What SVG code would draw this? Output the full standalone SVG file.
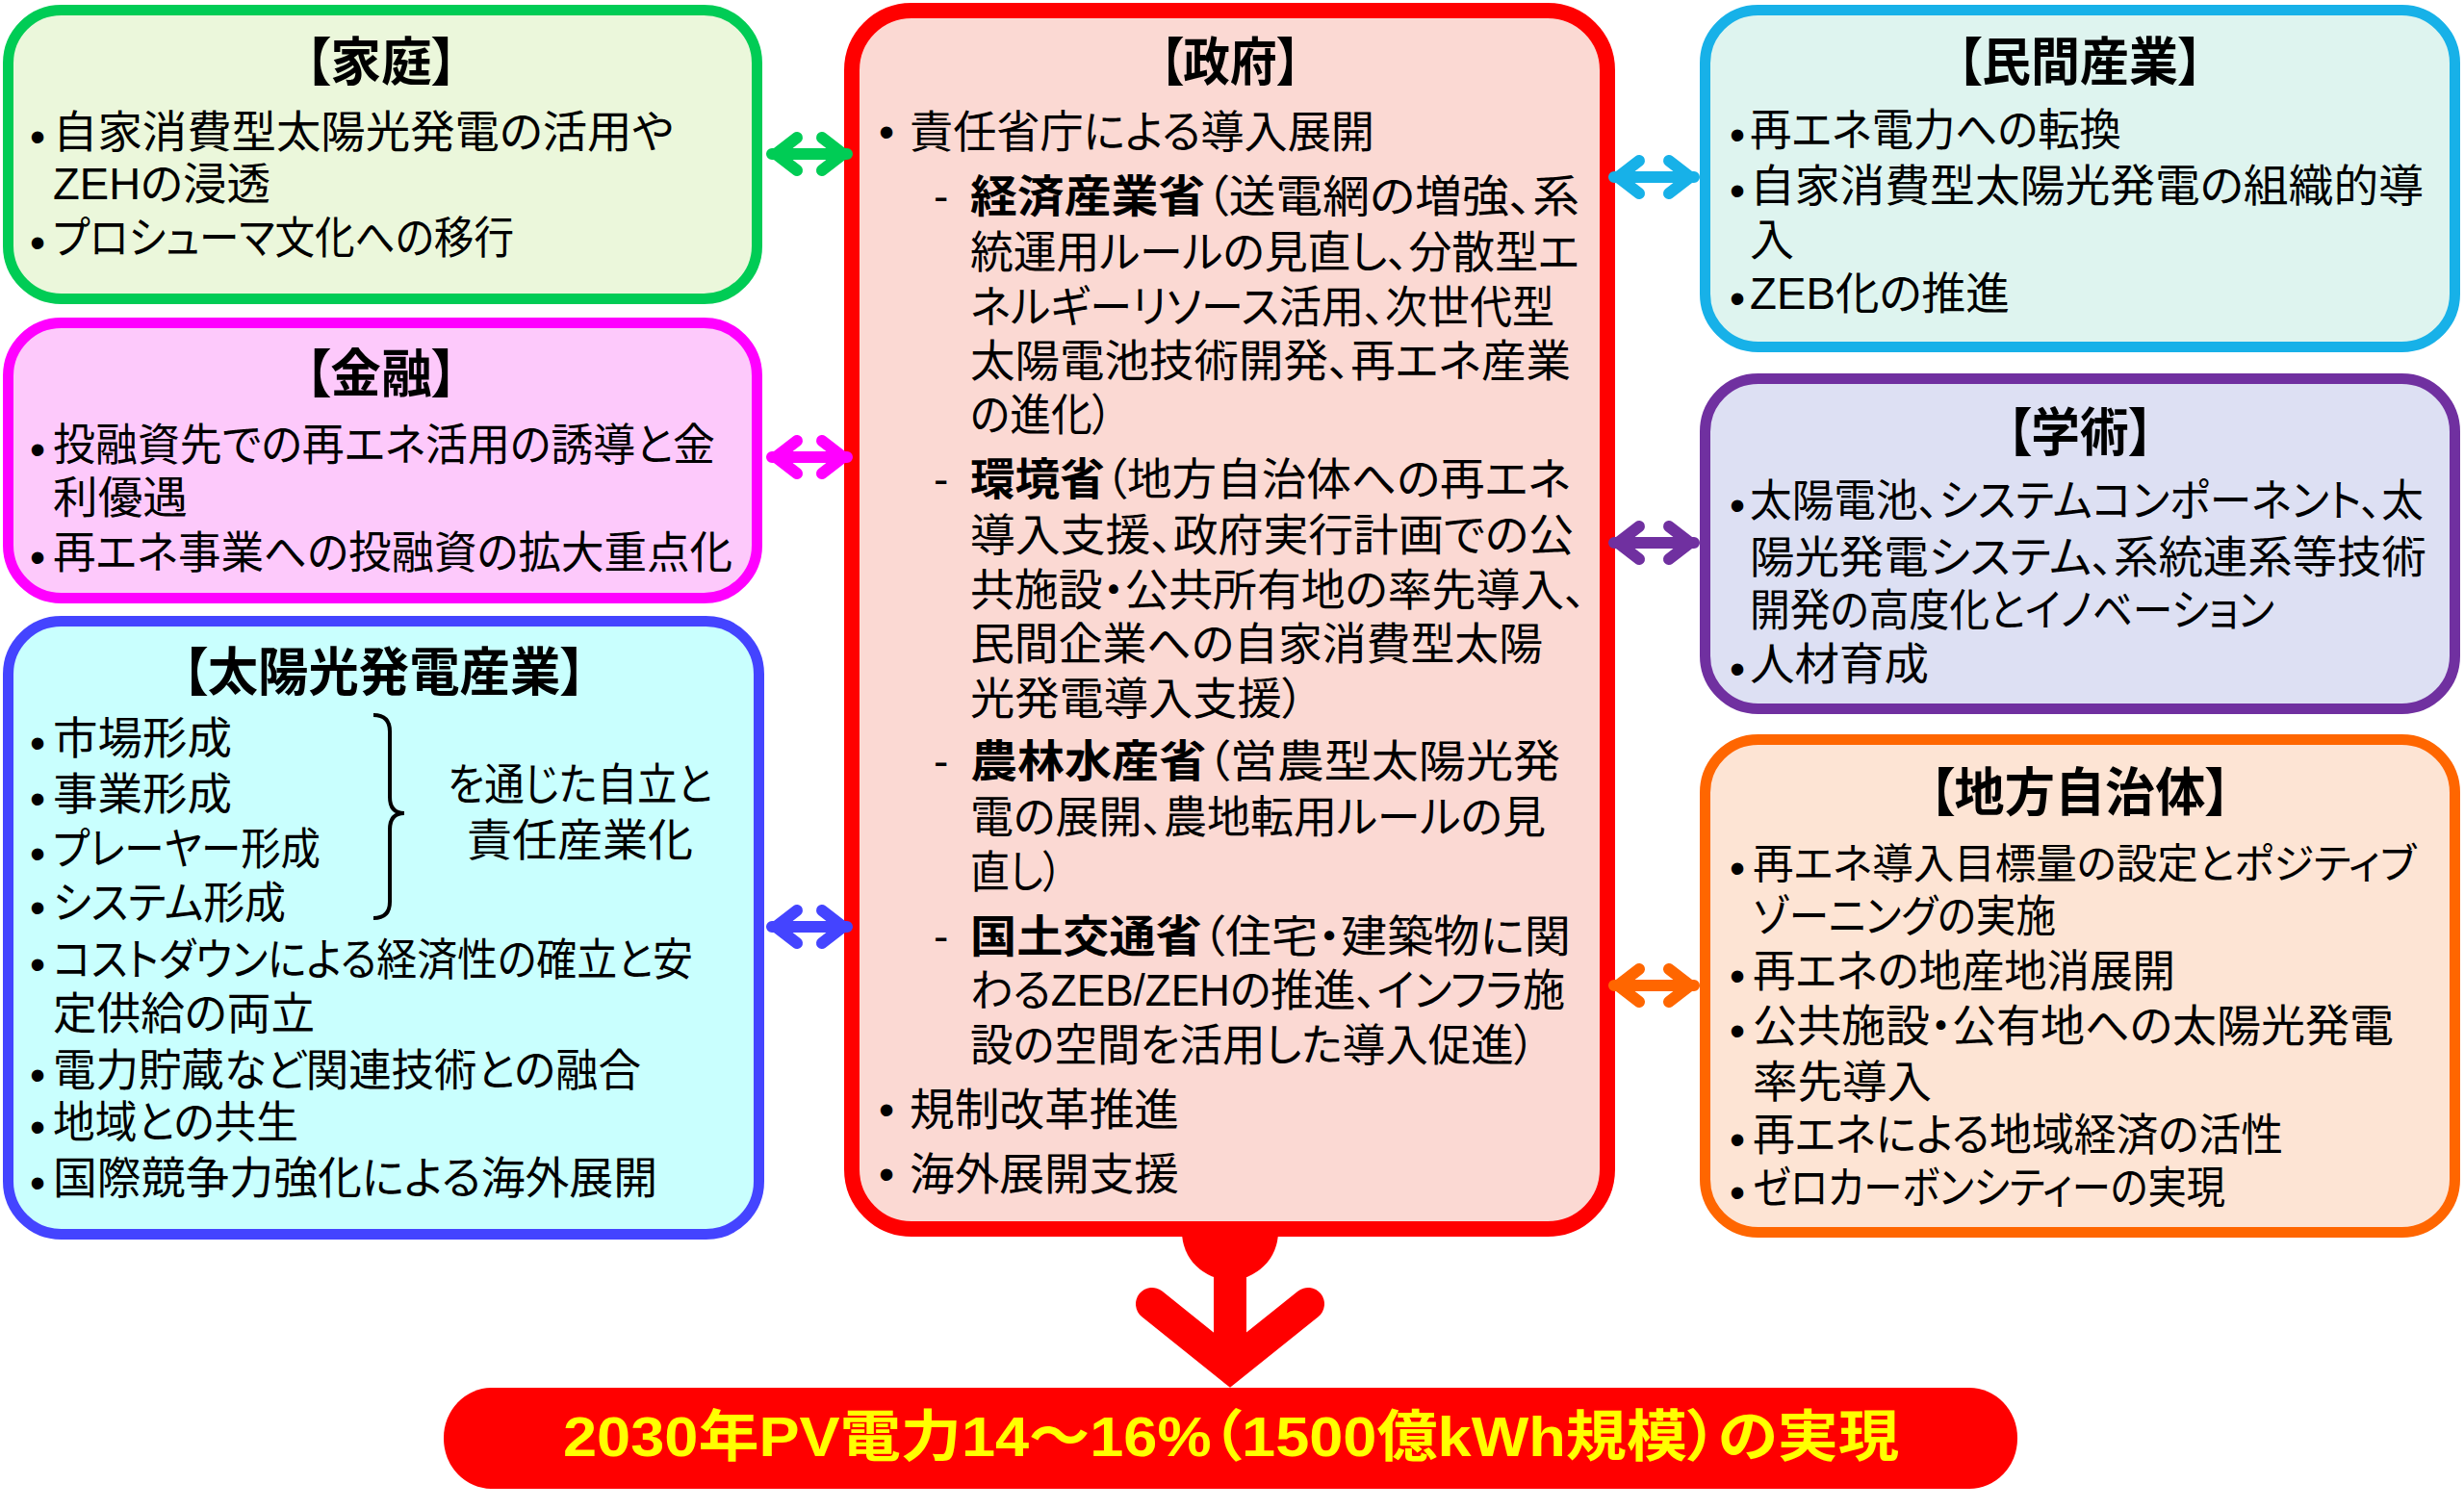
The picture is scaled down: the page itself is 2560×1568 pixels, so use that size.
<svg xmlns="http://www.w3.org/2000/svg" width="2560" height="1568" viewBox="0 0 2560 1568">
<style>
.t{font-family:"Liberation Sans","Noto Sans CJK JP","Noto Sans CJK SC",sans-serif;font-size:46px;fill:#000;font-feature-settings:"palt"}
.h{font-weight:bold;font-size:54px;text-anchor:middle}
.b{font-weight:bold}
.bu{font-family:"Liberation Sans",sans-serif;font-size:46px;fill:#000}
.box{stroke-width:11}
.dbl{fill:none;stroke-width:12;stroke-linecap:round;stroke-linejoin:miter}
.goal{font-family:"Liberation Sans","Noto Sans CJK JP","Noto Sans CJK SC",sans-serif;font-size:58px;font-weight:bold;fill:#FFFF00;text-anchor:middle;font-feature-settings:"palt"}
</style>
<rect width="2560" height="1568" fill="#FFFFFF"/>

<g id="node-katei">
<rect class="box" x="8.5" y="10.5" width="778" height="300" rx="55" fill="#EBF7DB" stroke="#00CC55"/>
<text class="t h" x="396" y="84" textLength="158" lengthAdjust="spacingAndGlyphs">【家庭】</text>
<text class="bu" x="31" y="158">•</text>
<text class="t" x="55" y="153" textLength="645" lengthAdjust="spacingAndGlyphs">自家消費型太陽光発電の活用や</text>
<text class="t" x="55" y="207" textLength="226" lengthAdjust="spacingAndGlyphs">ZEHの浸透</text>
<text class="bu" x="31" y="268">•</text>
<text class="t" x="55" y="263" textLength="479" lengthAdjust="spacingAndGlyphs">プロシューマ文化への移行</text>
</g>

<g id="node-kinyu">
<rect class="box" x="8.5" y="335.5" width="778" height="286" rx="55" fill="#FDC9FB" stroke="#FF00FF"/>
<text class="t h" x="396" y="408" textLength="158" lengthAdjust="spacingAndGlyphs">【金融】</text>
<text class="bu" x="31" y="483">•</text>
<text class="t" x="55" y="478" textLength="688" lengthAdjust="spacingAndGlyphs">投融資先での再エネ活用の誘導と金</text>
<text class="t" x="55" y="533" textLength="140" lengthAdjust="spacingAndGlyphs">利優遇</text>
<text class="bu" x="31" y="595">•</text>
<text class="t" x="55" y="590" textLength="706" lengthAdjust="spacingAndGlyphs">再エネ事業への投融資の拡大重点化</text>
</g>

<g id="node-pv-industry">
<rect class="box" x="8.5" y="645.5" width="780" height="637" rx="55" fill="#C9FFFE" stroke="#4444FF"/>
<text class="t h" x="399" y="718" textLength="419" lengthAdjust="spacingAndGlyphs">【太陽光発電産業】</text>
<text class="bu" x="31" y="788">•</text>
<text class="t" x="55" y="783" textLength="186" lengthAdjust="spacingAndGlyphs">市場形成</text>
<text class="bu" x="31" y="846">•</text>
<text class="t" x="55" y="841" textLength="186" lengthAdjust="spacingAndGlyphs">事業形成</text>
<text class="bu" x="31" y="903">•</text>
<text class="t" x="55" y="898" textLength="278" lengthAdjust="spacingAndGlyphs">プレーヤー形成</text>
<text class="bu" x="31" y="959">•</text>
<text class="t" x="55" y="954" textLength="242" lengthAdjust="spacingAndGlyphs">システム形成</text>
<path d="M388,743 Q405,743 405,760 L405,828 Q405,845 420,845 Q405,845 405,862 L405,937 Q405,954 388,954" fill="none" stroke="#000" stroke-width="4"/>
<text class="t" x="465" y="831" textLength="275" lengthAdjust="spacingAndGlyphs">を通じた自立と</text>
<text class="t" x="485" y="889" textLength="235" lengthAdjust="spacingAndGlyphs">責任産業化</text>
<text class="bu" x="31" y="1018">•</text>
<text class="t" x="55" y="1013" textLength="665" lengthAdjust="spacingAndGlyphs">コストダウンによる経済性の確立と安</text>
<text class="t" x="55" y="1069" textLength="272" lengthAdjust="spacingAndGlyphs">定供給の両立</text>
<text class="bu" x="31" y="1133">•</text>
<text class="t" x="55" y="1128" textLength="611" lengthAdjust="spacingAndGlyphs">電力貯蔵など関連技術との融合</text>
<text class="bu" x="31" y="1187">•</text>
<text class="t" x="55" y="1182" textLength="255" lengthAdjust="spacingAndGlyphs">地域との共生</text>
<text class="bu" x="31" y="1245">•</text>
<text class="t" x="55" y="1240" textLength="628" lengthAdjust="spacingAndGlyphs">国際競争力強化による海外展開</text>
</g>

<g id="node-seifu">
<rect x="885" y="11" width="785" height="1266" rx="62" fill="#FBD9D3" stroke="#FF0000" stroke-width="16"/>
<text class="t h" x="1278" y="84" textLength="146" lengthAdjust="spacingAndGlyphs">【政府】</text>
<text class="bu" x="913" y="153">•</text>
<text class="t" x="945" y="153" textLength="483" lengthAdjust="spacingAndGlyphs">責任省庁による導入展開</text>
<text class="t" x="970" y="220">-</text>
<text class="t" x="1008" y="220" textLength="633" lengthAdjust="spacingAndGlyphs"><tspan class="b">経済産業省</tspan>（送電網の増強、系</text>
<text class="t" x="1008" y="278" textLength="633" lengthAdjust="spacingAndGlyphs">統運用ルールの見直し、分散型エ</text>
<text class="t" x="1008" y="335" textLength="607" lengthAdjust="spacingAndGlyphs">ネルギーリソース活用、次世代型</text>
<text class="t" x="1008" y="391" textLength="624" lengthAdjust="spacingAndGlyphs">太陽電池技術開発、再エネ産業</text>
<text class="t" x="1008" y="447" textLength="148" lengthAdjust="spacingAndGlyphs">の進化）</text>
<text class="t" x="970" y="514">-</text>
<text class="t" x="1008" y="514" textLength="624" lengthAdjust="spacingAndGlyphs"><tspan class="b">環境省</tspan>（地方自治体への再エネ</text>
<text class="t" x="1008" y="572" textLength="627" lengthAdjust="spacingAndGlyphs">導入支援、政府実行計画での公</text>
<text class="t" x="1008" y="629" textLength="640" lengthAdjust="spacingAndGlyphs">共施設・公共所有地の率先導入、</text>
<text class="t" x="1008" y="685" textLength="595" lengthAdjust="spacingAndGlyphs">民間企業への自家消費型太陽</text>
<text class="t" x="1008" y="742" textLength="347" lengthAdjust="spacingAndGlyphs">光発電導入支援）</text>
<text class="t" x="970" y="807">-</text>
<text class="t" x="1008" y="807" textLength="613" lengthAdjust="spacingAndGlyphs"><tspan class="b">農林水産省</tspan>（営農型太陽光発</text>
<text class="t" x="1008" y="865" textLength="598" lengthAdjust="spacingAndGlyphs">電の展開、農地転用ルールの見</text>
<text class="t" x="1008" y="922" textLength="96" lengthAdjust="spacingAndGlyphs">直し）</text>
<text class="t" x="970" y="989">-</text>
<text class="t" x="1008" y="989" textLength="624" lengthAdjust="spacingAndGlyphs"><tspan class="b">国土交通省</tspan>（住宅・建築物に関</text>
<text class="t" x="1008" y="1045" textLength="618" lengthAdjust="spacingAndGlyphs">わるZEB/ZEHの推進、インフラ施</text>
<text class="t" x="1008" y="1102" textLength="587" lengthAdjust="spacingAndGlyphs">設の空間を活用した導入促進）</text>
<text class="bu" x="913" y="1169">•</text>
<text class="t" x="945" y="1169" textLength="280" lengthAdjust="spacingAndGlyphs">規制改革推進</text>
<text class="bu" x="913" y="1236">•</text>
<text class="t" x="945" y="1236" textLength="280" lengthAdjust="spacingAndGlyphs">海外展開支援</text>
</g>

<g id="node-minkan">
<rect class="box" x="1771.5" y="10.5" width="779" height="350" rx="55" fill="#DEF4EF" stroke="#17B1E8"/>
<text class="t h" x="2161" y="84" textLength="255" lengthAdjust="spacingAndGlyphs">【民間産業】</text>
<text class="bu" x="1797" y="156">•</text>
<text class="t" x="1818" y="151" textLength="386" lengthAdjust="spacingAndGlyphs">再エネ電力への転換</text>
<text class="bu" x="1797" y="214">•</text>
<text class="t" x="1818" y="209" textLength="700" lengthAdjust="spacingAndGlyphs">自家消費型太陽光発電の組織的導</text>
<text class="t" x="1818" y="265">入</text>
<text class="bu" x="1797" y="326">•</text>
<text class="t" x="1818" y="321" textLength="270" lengthAdjust="spacingAndGlyphs">ZEB化の推進</text>
</g>

<g id="node-gakujutsu">
<rect class="box" x="1771.5" y="393.5" width="779" height="343" rx="55" fill="#DDE0F3" stroke="#7030A0"/>
<text class="t h" x="2161" y="469" textLength="152" lengthAdjust="spacingAndGlyphs">【学術】</text>
<text class="bu" x="1797" y="541">•</text>
<text class="t" x="1818" y="536" textLength="700" lengthAdjust="spacingAndGlyphs">太陽電池、システムコンポーネント、太</text>
<text class="t" x="1818" y="595" textLength="703" lengthAdjust="spacingAndGlyphs">陽光発電システム、系統連系等技術</text>
<text class="t" x="1818" y="650" textLength="545" lengthAdjust="spacingAndGlyphs">開発の高度化とイノベーション</text>
<text class="bu" x="1797" y="711">•</text>
<text class="t" x="1818" y="706" textLength="186" lengthAdjust="spacingAndGlyphs">人材育成</text>
</g>

<g id="node-chiho">
<rect class="box" x="1771.5" y="768.5" width="779" height="512" rx="55" fill="#FDE4D4" stroke="#FF6600"/>
<text class="t h" x="2161" y="843" textLength="313" lengthAdjust="spacingAndGlyphs">【地方自治体】</text>
<text class="bu" x="1797" y="918">•</text>
<text class="t" x="1821" y="913" style="font-size:43px" textLength="689" lengthAdjust="spacingAndGlyphs">再エネ導入目標量の設定とポジティブ</text>
<text class="t" x="1821" y="968" textLength="315" lengthAdjust="spacingAndGlyphs">ゾーニングの実施</text>
<text class="bu" x="1797" y="1030">•</text>
<text class="t" x="1821" y="1025" textLength="439" lengthAdjust="spacingAndGlyphs">再エネの地産地消展開</text>
<text class="bu" x="1797" y="1087">•</text>
<text class="t" x="1821" y="1082" textLength="666" lengthAdjust="spacingAndGlyphs">公共施設・公有地への太陽光発電</text>
<text class="t" x="1821" y="1140" textLength="186" lengthAdjust="spacingAndGlyphs">率先導入</text>
<text class="bu" x="1797" y="1200">•</text>
<text class="t" x="1821" y="1195" textLength="551" lengthAdjust="spacingAndGlyphs">再エネによる地域経済の活性</text>
<text class="bu" x="1797" y="1255">•</text>
<text class="t" x="1821" y="1250" textLength="491" lengthAdjust="spacingAndGlyphs">ゼロカーボンシティーの実現</text>
</g>

<g id="node-goal">
<rect x="461" y="1442" width="1635" height="105" rx="50" ry="52" fill="#FF0000"/>
<text class="goal" x="1279" y="1513" textLength="1388" lengthAdjust="spacingAndGlyphs">2030年PV電力14～16%（1500億kWh規模）の実現</text>
</g>

<g id="connectors">
<path class="dbl" stroke="#00CC55" d="M802,160 H880 M828,143 L806,160 L828,177 M854,143 L876,160 L854,177"/>
<path class="dbl" stroke="#FF00FF" d="M802,475 H880 M828,458 L806,475 L828,492 M854,458 L876,475 L854,492"/>
<path class="dbl" stroke="#4444FF" d="M802,963 H880 M828,946 L806,963 L828,980 M854,946 L876,963 L854,980"/>
<path class="dbl" stroke="#17B1E8" d="M1677,184 H1760 M1703,167 L1681,184 L1703,201 M1734,167 L1756,184 L1734,201"/>
<path class="dbl" stroke="#7030A0" d="M1677,564 H1760 M1703,547 L1681,564 L1703,581 M1734,547 L1756,564 L1734,581"/>
<path class="dbl" stroke="#FF6600" d="M1677,1024 H1760 M1703,1007 L1681,1024 L1703,1041 M1734,1007 L1756,1024 L1734,1041"/>
<path d="M1228,1280 A50,50 0 0 0 1328,1280 Z" fill="#FF0000"/>
<path d="M1278,1290 V1420 M1197,1355 L1278,1420 L1359,1355" fill="none" stroke="#FF0000" stroke-width="34" stroke-linecap="round" stroke-linejoin="miter"/>
</g>
</svg>
